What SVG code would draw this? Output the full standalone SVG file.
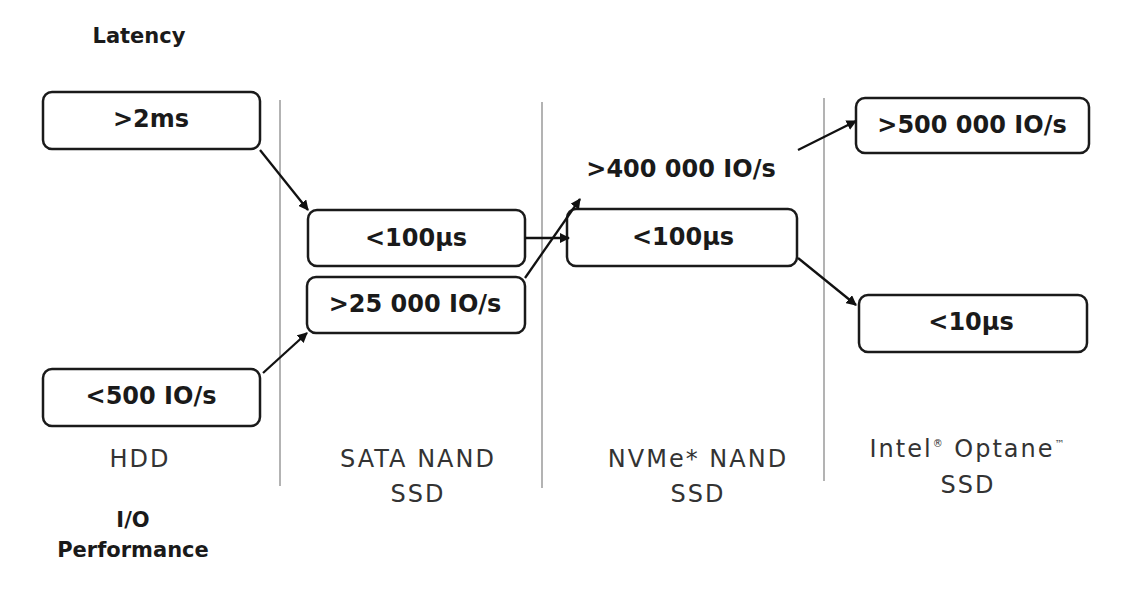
<svg xmlns="http://www.w3.org/2000/svg" width="1121" height="593" viewBox="0 0 1121 593">
<defs>
<style>
.box{fill:#fff;stroke:#1a1a1a;stroke-width:2.5}
.val{font-family:"DejaVu Sans","Liberation Sans",sans-serif;font-weight:bold;font-size:24px;fill:#1a1a1a;text-anchor:middle}
.cat{font-family:"DejaVu Sans","Liberation Sans",sans-serif;font-size:24px;fill:#333;text-anchor:middle;letter-spacing:2px}
.hdr{font-family:"DejaVu Sans","Liberation Sans",sans-serif;font-weight:bold;font-size:21px;fill:#1a1a1a;text-anchor:middle}
.sep{stroke:#8a8a8a;stroke-width:1.3}
.conn{stroke:#111;stroke-width:2.3;fill:none;marker-end:url(#ah)}
</style>
<marker id="ah" viewBox="0 0 10 10" refX="9" refY="5" markerWidth="4.5" markerHeight="4.5" orient="auto" markerUnits="strokeWidth">
<path d="M0,0 L10,5 L0,10 z" fill="#111"/>
</marker>
</defs>
<rect width="1121" height="593" fill="#fff"/>

<g id="separators">
<line class="sep" x1="280" y1="100" x2="280" y2="486"/>
<line class="sep" x1="542" y1="102" x2="542" y2="488"/>
<line class="sep" x1="824" y1="98" x2="824" y2="481"/>
</g>

<g id="label-latency"><text class="hdr" x="139" y="43">Latency</text></g>
<g id="label-io"><text class="hdr" x="133" y="527">I/O</text><text class="hdr" x="133" y="557">Performance</text></g>

<g id="cat-hdd"><text class="cat" x="140" y="467">HDD</text></g>
<g id="cat-sata"><text class="cat" x="418" y="467">SATA NAND</text><text class="cat" x="418" y="502">SSD</text></g>
<g id="cat-nvme"><text class="cat" x="698" y="467">NVMe* NAND</text><text class="cat" x="698" y="502">SSD</text></g>
<g id="cat-optane"><text class="cat" x="968" y="457">Intel<tspan font-size="10" dy="-10">®</tspan><tspan dy="10"> Optane</tspan><tspan font-size="10" dy="-10">™</tspan></text><text class="cat" x="968" y="493">SSD</text></g>

<g id="hdd-latency"><rect class="box" x="43" y="92" width="217" height="57" rx="9"/><text class="val" x="151" y="127">&gt;2ms</text></g>
<g id="hdd-io"><rect class="box" x="43" y="369" width="217" height="57" rx="9"/><text class="val" x="151" y="404">&lt;500 IO/s</text></g>
<g id="sata-latency"><rect class="box" x="308" y="210" width="217" height="56" rx="9"/><text class="val" x="416" y="246">&lt;100µs</text></g>
<g id="sata-io"><rect class="box" x="307" y="277" width="218" height="56" rx="9"/><text class="val" x="415" y="312">&gt;25 000 IO/s</text></g>
<g id="nvme-latency"><rect class="box" x="567" y="209" width="230" height="57" rx="9"/><text class="val" x="683" y="245">&lt;100µs</text></g>
<g id="nvme-io"><text class="val" x="681" y="177" font-size="25">&gt;400 000 IO/s</text></g>
<g id="optane-io"><rect class="box" x="856" y="98" width="233" height="55" rx="9"/><text class="val" x="972" y="133">&gt;500 000 IO/s</text></g>
<g id="optane-latency"><rect class="box" x="859" y="295" width="228" height="57" rx="9"/><text class="val" x="971" y="330">&lt;10µs</text></g>

<g id="connectors">
<line class="conn" x1="260" y1="150" x2="308" y2="210"/>
<line class="conn" x1="263" y1="373" x2="307" y2="333"/>
<line class="conn" x1="525" y1="238" x2="569" y2="238"/>
<line class="conn" x1="525" y1="278" x2="580" y2="199"/>
<line class="conn" x1="798" y1="150" x2="856" y2="121"/>
<line class="conn" x1="798" y1="258" x2="856" y2="305"/>
</g>
</svg>
